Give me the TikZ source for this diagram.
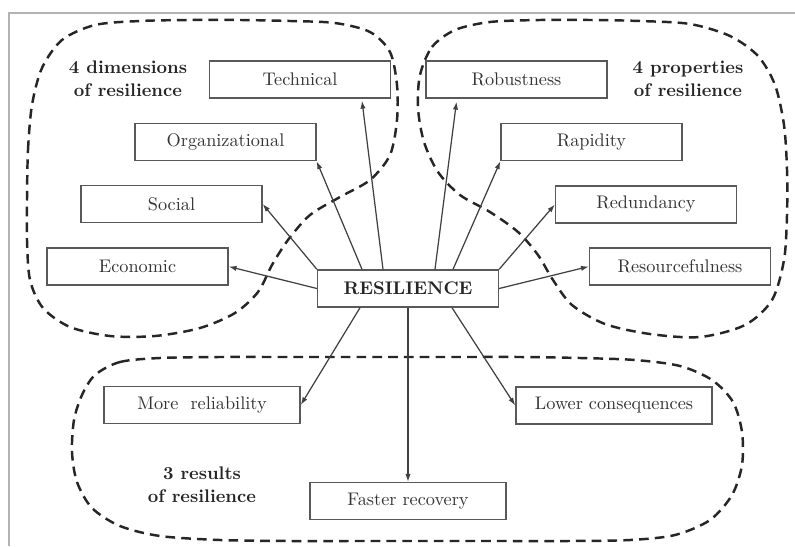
\documentclass[tikz,border=0pt]{standalone}
\usetikzlibrary{calc,arrows.meta}
\begin{document}
\begin{tikzpicture}[x=0.57pt,y=-0.57pt,
  item/.style={draw=black!65, line width=0.9pt, minimum width=103pt, minimum height=21pt, inner sep=0pt, text=black!80, font=\fontsize{10.4}{13}\selectfont},
  wide/.style={item, minimum width=111.7pt},
  link/.style={draw=black!75, line width=0.7pt, -{Latex[length=4.5pt,width=3pt]}},
  zone/.style={draw=black!85, line width=1.4pt, dash pattern=on 5.5pt off 3.5pt},
  title/.style={font=\fontsize{10.4}{13}\selectfont\bfseries, align=center, text=black!85, inner sep=0pt}]
\useasboundingbox (0,0) rectangle (795,546);
\fill[white] (0,0) rectangle (795,546);
\draw[gray!60, line width=0.9pt] (795,13) -- (9,13) -- (9,546);

% dashed groupings
\draw[zone] plot[smooth cycle, tension=0.5] coordinates {
  (27,200) (28,150) (32,105) (42,68) (62,40) (95,25) (140,21) (190,20)
  (240,20) (290,21) (335,23) (370,32) (390,52) (397,85) (397,120)
  (390,155) (370,180) (340,197) (310,215) (288,240) (272,265) (258,292)
  (235,313) (200,328) (155,336) (110,336) (70,327) (43,308) (30,280)
  (27,240)};
\draw[zone] plot[smooth cycle, tension=0.5] coordinates {
  (420,75) (432,47) (455,30) (490,22) (540,20) (590,20) (640,21) (690,24)
  (730,36) (758,56) (775,85) (784,125) (787,170) (787,215) (784,260)
  (772,300) (745,325) (700,337) (650,334) (605,324) (572,305) (553,280)
  (538,255) (518,232) (490,212) (460,195) (438,172) (424,142) (418,108)};
\draw[zone] plot[smooth cycle, tension=0.5] coordinates {
  (95,375) (120,362) (160,358) (220,357) (280,357) (340,357) (400,357)
  (460,357) (520,357) (580,358) (635,360) (680,366) (712,380) (733,402)
  (742,432) (742,465) (732,495) (710,520) (675,535) (630,540) (570,541)
  (500,541) (430,541) (360,541) (290,541) (220,540) (160,536) (120,526)
  (92,508) (77,482) (72,452) (74,420) (82,395)};

% group titles
\node[title] (tdim) at (128,79) {4 dimensions\\of resilience};
\node[title] (tprop) at (688,79) {4 properties\\of resilience};
\node[title] (tres) at (202,485) {3 results\\of resilience};

% centre
\node[item, font=\fontsize{10.4}{13}\selectfont\bfseries, text=black!85] (res) at (408,288.5) {RESILIENCE};

% dimensions
\node[item] (tech) at (300,79.5) {Technical};
\node[item] (org) at (225.5,142) {Organizational};
\node[item] (soc) at (171.5,204) {Social};
\node[item] (eco) at (137.5,266.5) {Economic};

% properties
\node[item] (rob) at (516.5,79.5) {Robustness};
\node[item] (rap) at (591.5,142) {Rapidity};
\node[item] (red) at (646,204.5) {Redundancy};
\node[item] (rsc) at (680,266.5) {Resourcefulness};

% results
\node[wide] (more) at (202,405) {More~ reliability};
\node[wide] (lower) at (614,405.5) {Lower consequences};
\node[wide] (fast) at (408,501) {Faster recovery};

% connectors
\draw[link] ($(res.north)+(-25,0)$) -- ($(tech.south)+(62,2)$);
\draw[link] ($(res.north)+(-46,0)$) -- (org.south east);
\draw[link] (res.north west) -- (soc.east);
\draw[link] (res.west) -- (eco.east);
\draw[link] ($(res.north)+(27,0)$) -- ($(rob.south)+(-60,3)$);
\draw[link] ($(res.north)+(45,0)$) -- (rap.south west);
\draw[link] (res.north east) -- (red.west);
\draw[link] (res.east) -- (rsc.west);
\draw[link] ($(res.south)+(-48,0)$) -- (more.east);
\draw[link] (res.south) -- (fast.north);
\draw[link] ($(res.south)+(44,0)$) -- (lower.west);
\end{tikzpicture}
\end{document}
